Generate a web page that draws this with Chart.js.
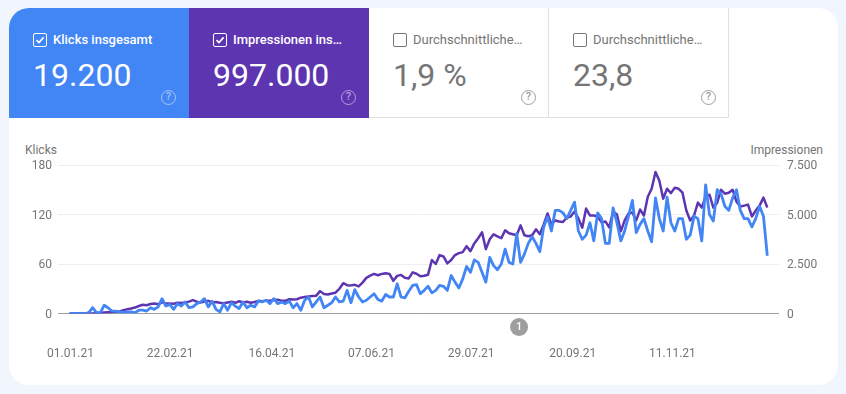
<!DOCTYPE html>
<html lang="de">
<head>
<meta charset="utf-8">
<title>Leistung</title>
<script src="https://cdn.jsdelivr.net/npm/chart.js@4/dist/chart.umd.min.js"></script>
<style>
    html, body { margin: 0; padding: 0; }
    body { width: 846px; height: 394px; background: #f1f5fe; overflow: hidden; position: relative; font-family: Roboto, sans-serif; }
    .card { position: absolute; left: 9px; top: 8px; width: 829px; height: 377px; background: #fff; border-radius: 20px; overflow: hidden; }
    .tile { position: absolute; top: 0; width: 180px; height: 110px; box-sizing: border-box; color: #757575; border-bottom: 1px solid #e0e0e0; border-right: 1px solid #e0e0e0; }
    .tile.on { color: #fff; border: 0; }
    .box { position: absolute; left: 24px; top: 25px; width: 14px; height: 14px; box-sizing: border-box; border: 1px solid #757575; border-radius: 2px; }
    .on .box { border-color: #fff; }
    .box svg { position: absolute; left: 1px; top: 1px; }
    .name { position: absolute; left: 44px; top: 24px; font-size: 13px; line-height: 16px; white-space: nowrap; }
    .on .name { font-weight: 500; }
    .num { position: absolute; left: 24px; top: 47px; font-size: 32px; line-height: 40px; white-space: nowrap; }
    .help { position: absolute; left: 152px; top: 81.5px; width: 15px; height: 15px; box-sizing: border-box; border: 1.5px solid #9e9e9e; border-radius: 50%; font-size: 11px; font-weight: 500; line-height: 12px; text-align: center; color: #9e9e9e; }
    .on .help { border-color: rgba(255,255,255,.5); color: rgba(255,255,255,.5); }
    .axis-name { position: absolute; top: 135px; font-size: 12px; line-height: 14px; color: #757575; }
    canvas { position: absolute; left: 0; top: 110px; }
</style>
</head>
<body>
<div class="card">
    <div class="tile on" style="left:0;background:#4285f4">
        <div class="box"><svg width="10" height="10" viewBox="0 0 10 10"><path d="M1.5 5.2 L4 7.6 L8.6 2.4" fill="none" stroke="#fff" stroke-width="1.6"/></svg></div>
        <div class="name">Klicks insgesamt</div><div class="num">19.200</div><div class="help">?</div>
    </div>
    <div class="tile on" style="left:180px;background:#5e35b1">
        <div class="box"><svg width="10" height="10" viewBox="0 0 10 10"><path d="M1.5 5.2 L4 7.6 L8.6 2.4" fill="none" stroke="#fff" stroke-width="1.6"/></svg></div>
        <div class="name">Impressionen ins…</div><div class="num">997.000</div><div class="help">?</div>
    </div>
    <div class="tile" style="left:360px">
        <div class="box"></div><div class="name">Durchschnittliche…</div><div class="num">1,9 %</div><div class="help">?</div>
    </div>
    <div class="tile" style="left:540px">
        <div class="box"></div><div class="name">Durchschnittliche…</div><div class="num">23,8</div><div class="help">?</div>
    </div>
    <div class="axis-name" style="left:16px">Klicks</div>
    <div class="axis-name" style="right:15px">Impressionen</div>
    <canvas id="chart" width="829" height="267"></canvas>
</div>
<script>
    // 182 readings spread evenly over the 364 days, index 0 = 01.01.21
    var SAMPLE_STEP = 364 / 181;

    var TICK_DAYS = [0, 52, 105, 157, 209, 262, 314];
    var TICK_LABELS = ['01.01.21', '22.02.21', '16.04.21', '07.06.21', '29.07.21', '20.09.21', '11.11.21'];

    var NOTE_DAY = 234.5;
    var NOTE_LABEL = '1';

    var CLICKS = [
        0, 0, 0, 0, 0, 1, 7, 1, 1, 10,
        7, 3, 3, 2, 1, 2, 2, 1, 4, 4,
        3, 7, 5, 8, 18, 9, 11, 5, 12, 9,
        14, 7, 8, 12, 14, 18, 8, 15, 5, 2,
        12, 4, 13, 9, 6, 14, 7, 10, 8, 15,
        14, 16, 12, 18, 12, 14, 12, 15, 7, 12,
        4, 16, 20, 8, 14, 20, 7, 10, 13, 20,
        14, 15, 28, 13, 29, 20, 14, 16, 20, 24,
        17, 15, 23, 20, 20, 36, 20, 19, 27, 34,
        35, 24, 28, 33, 25, 28, 34, 33, 28, 46,
        38, 31, 42, 57, 50, 65, 62, 50, 38, 68,
        58, 53, 60, 78, 62, 60, 97, 62, 72, 85,
        93, 85, 75, 105, 117, 100, 125, 125, 122, 115,
        125, 135, 100, 90, 95, 110, 88, 122, 115, 85,
        85, 128, 110, 88, 100, 118, 137, 98, 108, 115,
        100, 87, 140, 115, 100, 141, 110, 100, 115, 115,
        90, 95, 118, 115, 88, 156, 120, 112, 150, 145,
        130, 125, 140, 150, 125, 115, 115, 105, 115, 130, 118, 70
    ];

    var IMPRESSIONS = [
        0, 0, 0, 0, 0, 0, 0, 25, 40, 50,
        60, 70, 85, 100, 170, 210, 250, 300, 380, 440,
        420, 480, 500, 470, 560, 500, 510, 490, 540, 530,
        560, 600, 680, 600, 560, 600, 640, 560, 580, 540,
        520, 560, 590, 540, 620, 560, 590, 540, 580, 640,
        620, 650, 640, 680, 700, 650, 640, 720, 710, 720,
        800, 830, 860, 880, 900, 1130, 980, 960, 1010, 1050,
        1250, 1530, 1430, 1420, 1450, 1370, 1560, 1800, 1910, 2000,
        1930, 2000, 2030, 2000, 1650, 1900, 1950, 1800, 1770, 2080,
        2010, 1880, 1910, 1960, 2700, 2500, 2950, 2880, 2530, 2700,
        2950, 3050, 3100, 3400, 3150, 3540, 3800, 4100, 3250, 3750,
        4000, 3900, 3800, 4200, 4050, 4000, 3950, 4450, 3950, 3900,
        3950, 4250, 4000, 4500, 5050, 4500, 4700, 4650, 4620, 4850,
        4900, 5150, 4800, 4330, 5300, 4950, 4950, 4900, 4600, 4650,
        4350, 5150, 5000, 4150, 4700, 5050, 5100, 4700, 5250, 4950,
        5900, 6300, 7150, 6700, 5800, 6300, 6080, 6350, 6300, 6100,
        5200, 4700, 4950, 5600, 5350, 5900, 6000, 5350, 5600, 6250,
        6050, 6100, 6250, 5650, 5400, 5450, 5500, 4900, 5200, 5450, 5850, 5350
    ];

    var GREY = '#757575';

    function toPoints(values) {
        return values.map(function (v, i) { return { x: i * SAMPLE_STEP, y: v }; });
    }

    function germanNumber(v) {
        return v.toLocaleString('de-DE');
    }

    // the little grey "1" marker under the axis
    var notePlugin = {
        id: 'note',
        afterDraw: function (chart) {
            var ctx = chart.ctx;
            var x = chart.scales.x.getPixelForValue(NOTE_DAY);
            var y = chart.chartArea.bottom + 13.5;
            ctx.save();
            ctx.fillStyle = '#9e9e9e';
            ctx.beginPath();
            ctx.arc(x, y, 9, 0, Math.PI * 2);
            ctx.fill();
            ctx.fillStyle = '#fff';
            ctx.font = '500 11px Roboto';
            ctx.textAlign = 'center';
            ctx.textBaseline = 'middle';
            ctx.fillText(NOTE_LABEL, x, y + 0.5);
            ctx.restore();
        }
    };

    new Chart(document.getElementById('chart').getContext('2d'), {
        type: 'line',
        data: {
            datasets: [{
                label: 'Klicks',
                data: toPoints(CLICKS),
                yAxisID: 'clicks',
                borderColor: '#4285f4',
                borderWidth: 2.8,
                borderJoinStyle: 'round',
                pointRadius: 0,
                tension: 0,
            }, {
                label: 'Impressionen',
                data: toPoints(IMPRESSIONS),
                yAxisID: 'impressions',
                borderColor: '#5e35b1',
                borderWidth: 2.5,
                borderJoinStyle: 'round',
                pointRadius: 0,
                tension: 0,
            }],
        },
        plugins: [notePlugin],
        options: {
            responsive: false,
            animation: false,
            layout: { padding: { top: 47, left: 0, right: 0, bottom: 0 } },
            plugins: { legend: { display: false }, tooltip: { enabled: false } },
            scales: {
                x: {
                    type: 'linear',
                    min: -6,
                    max: 370.1,
                    grid: { display: false },
                    border: { display: false },
                    afterBuildTicks: function (axis) {
                        axis.ticks = TICK_DAYS.map(function (d) { return { value: d }; });
                    },
                    afterFit: function (axis) { axis.height = 71.5; },
                    ticks: {
                        autoSkip: false,
                        maxRotation: 0,
                        padding: 25,
                        labelOffset: 1,
                        color: GREY,
                        font: { family: 'Roboto', size: 12 },
                        callback: function (v) { return TICK_LABELS[TICK_DAYS.indexOf(v)]; },
                    },
                },
                clicks: {
                    position: 'left',
                    min: 0,
                    max: 180,
                    border: { display: false },
                    grid: {
                        drawTicks: false,
                        color: function (c) { return c.tick.value === 0 ? '#9e9e9e' : '#eeeeee'; },
                    },
                    afterFit: function (axis) { axis.width = 49; },
                    ticks: { stepSize: 60, padding: 6, labelOffset: 1, color: GREY, font: { family: 'Roboto', size: 12 } },
                },
                impressions: {
                    position: 'right',
                    min: 0,
                    max: 7500,
                    border: { display: false },
                    grid: { display: false, drawTicks: false },
                    afterFit: function (axis) { axis.width = 59; },
                    ticks: { stepSize: 2500, padding: 8, labelOffset: 1, color: GREY, font: { family: 'Roboto', size: 12 }, callback: germanNumber },
                },
            },
        },
    });
</script>
</body>
</html>
